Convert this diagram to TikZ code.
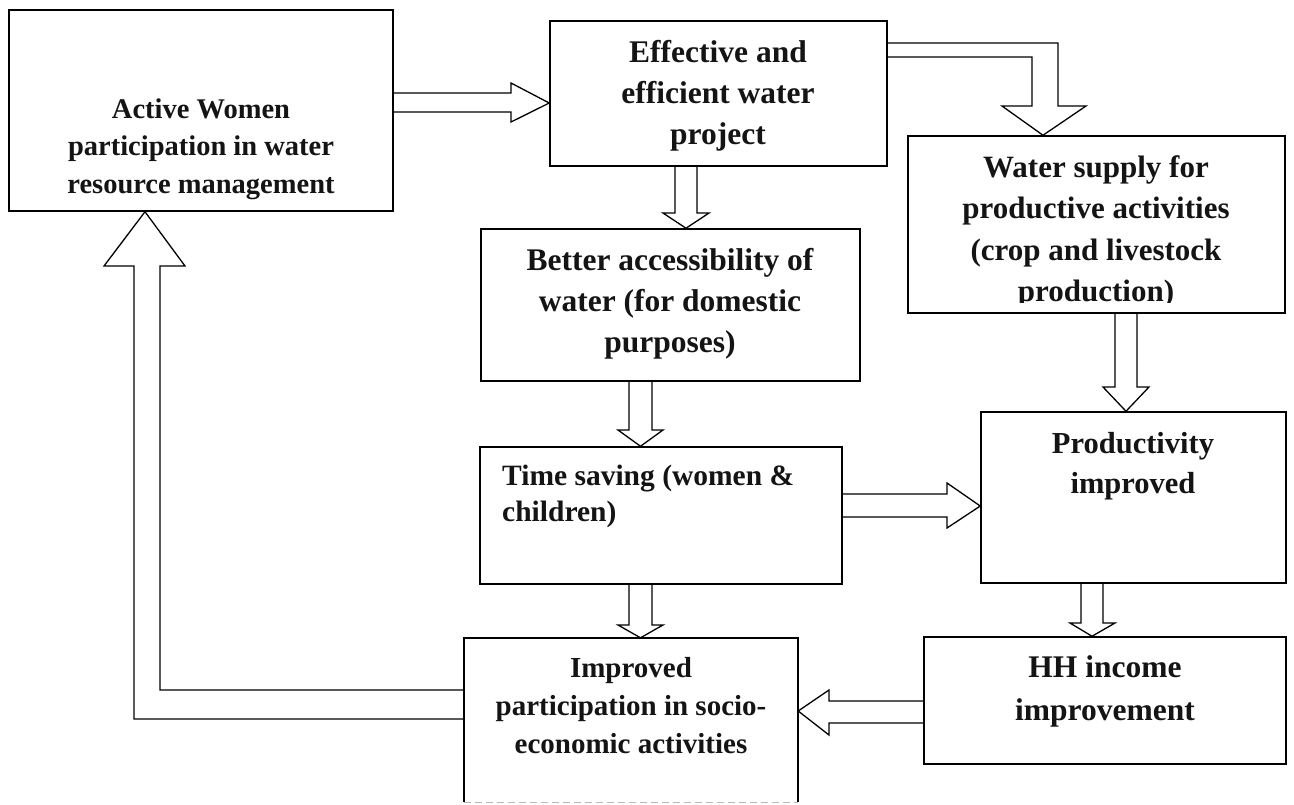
\documentclass[tikz,border=0pt]{standalone}
\usepackage{fontspec}
\setmainfont{Liberation Serif}
\usetikzlibrary{calc}
\newcommand\boxlines[4]{{\fontsize{#1}{#2}\selectfont\bfseries\begin{tabular}[t]{@{}#3@{}}#4\end{tabular}}}
\begin{document}
\begin{tikzpicture}[x=1pt,y=-1pt,
  box/.style={draw, line width=1.5pt, inner sep=0pt},
  txt/.style={inner sep=0pt, anchor=base, text=black!92},
  blk/.style={draw, line width=1.3pt, line join=miter}]
\useasboundingbox (0,0) rectangle (1294,804);
\fill[white] (0,0) rectangle (1294,804);
\clip (0,0) rectangle (1294,804);
% boxes
\node[box, minimum width=384pt, minimum height=201pt] (A) at (201,110.5) {};
\node[box, minimum width=337pt, minimum height=145pt] (B) at (718.5,93.5) {};
\node[box, minimum width=377pt, minimum height=177pt] (C) at (1096.5,224.5) {};
\node[box, minimum width=379pt, minimum height=152pt] (D) at (670.5,305) {};
\node[box, minimum width=362pt, minimum height=137pt] (E) at (661,515.5) {};
\node[box, minimum width=305pt, minimum height=171pt] (F) at (1133.5,497.5) {};
\node[box, minimum width=362pt, minimum height=127pt] (G) at (1105,700.5) {};
\node[inner sep=0pt, minimum width=334pt, minimum height=164pt] (H) at (631,720) {};
\draw[line width=1.5pt] (H.south west) -- (H.north west) -- (H.north east) -- (H.south east);
\draw[line width=1pt, gray!55, dash pattern=on 7pt off 4pt] (H.south west) -- (H.south east);
% texts
\node[txt] (At) at (201,118) {\boxlines{28.5}{37.5}{c}{Active Women\\participation in water\\resource management}};
\node[txt] (Bt) at (718,62) {\boxlines{31.5}{41}{c}{Effective and\\efficient water\\project}};
\begin{scope}
\clip (C.north west) rectangle (1285,302);
\node[txt] (Ct) at (1096,177) {\boxlines{31}{41.5}{c}{Water supply for\\productive activities\\(crop and livestock\\production)}};
\end{scope}
\node[txt] (Dt) at (670,270) {\boxlines{31.5}{41}{c}{Better accessibility of\\water (for domestic\\purposes)}};
\node[txt, anchor=base west] (Et) at (502,485) {\boxlines{29.5}{36}{l}{Time saving (women \&\\children)}};
\node[txt] (Ft) at (1133,453) {\boxlines{30.5}{40}{c}{Productivity\\improved}};
\node[txt] (Gt) at (1105,677) {\boxlines{31.5}{43}{c}{HH income\\improvement}};
\node[txt] (Ht) at (631,677) {\boxlines{29}{38}{c}{Improved\\participation in socio-\\economic activities}};
% A -> B
\draw[blk] (A.east |- 0,93) -- (511,93) -- (511,83) -- (B.west |- 0,103) -- (511,122) -- (511,112) -- (A.east |- 0,112);
% B -> C (elbow)
\draw[blk] (B.east |- 0,43) -- (1058,43) -- (1058,106) -- (1086,106) -- (C.north -| 1043,0) -- (1002,106) -- (1032,106) -- (1032,57) -- (B.east |- 0,57);
% B -> D
\draw[blk] (B.south -| 675,0) -- (675,213) -- (663,213) -- (D.north -| 686,0) -- (709,213) -- (697,213) -- (B.south -| 697,0);
% D -> E
\draw[blk] (D.south -| 629,0) -- (629,430) -- (618,430) -- (E.north -| 640.5,0) -- (663,430) -- (652,430) -- (D.south -| 652,0);
% E -> F
\draw[blk] (E.east |- 0,494) -- (947,494) -- (947,483) -- (F.west |- 0,506) -- (947,528) -- (947,517) -- (E.east |- 0,517);
% C -> F
\draw[blk] (C.south -| 1115,0) -- (1115,387) -- (1103,387) -- (F.north -| 1126,0) -- (1149,387) -- (1137,387) -- (C.south -| 1137,0);
% F -> G
\draw[blk] (F.south -| 1081,0) -- (1081,623) -- (1070,623) -- (G.north -| 1092,0) -- (1115,623) -- (1103,623) -- (F.south -| 1103,0);
% E -> H
\draw[blk] (E.south -| 629,0) -- (629,625) -- (618,625) -- (H.north -| 640.5,0) -- (663,625) -- (652,625) -- (E.south -| 652,0);
% G -> H
\coordinate (Htip) at (H.east |- 0,711);
\draw[blk] (G.west |- 0,701) -- (829,701) -- (829,690) -- (Htip) -- (829,735) -- (829,723) -- (G.west |- 0,723);
% H -> A (return)
\draw[blk] (H.west |- 0,690) -- (160,690) -- (160,266) -- (185,266) -- (A.south -| 145,0) -- (104,266) -- (134,266) -- (134,719) -- (H.west |- 0,719);
\end{tikzpicture}
\end{document}
